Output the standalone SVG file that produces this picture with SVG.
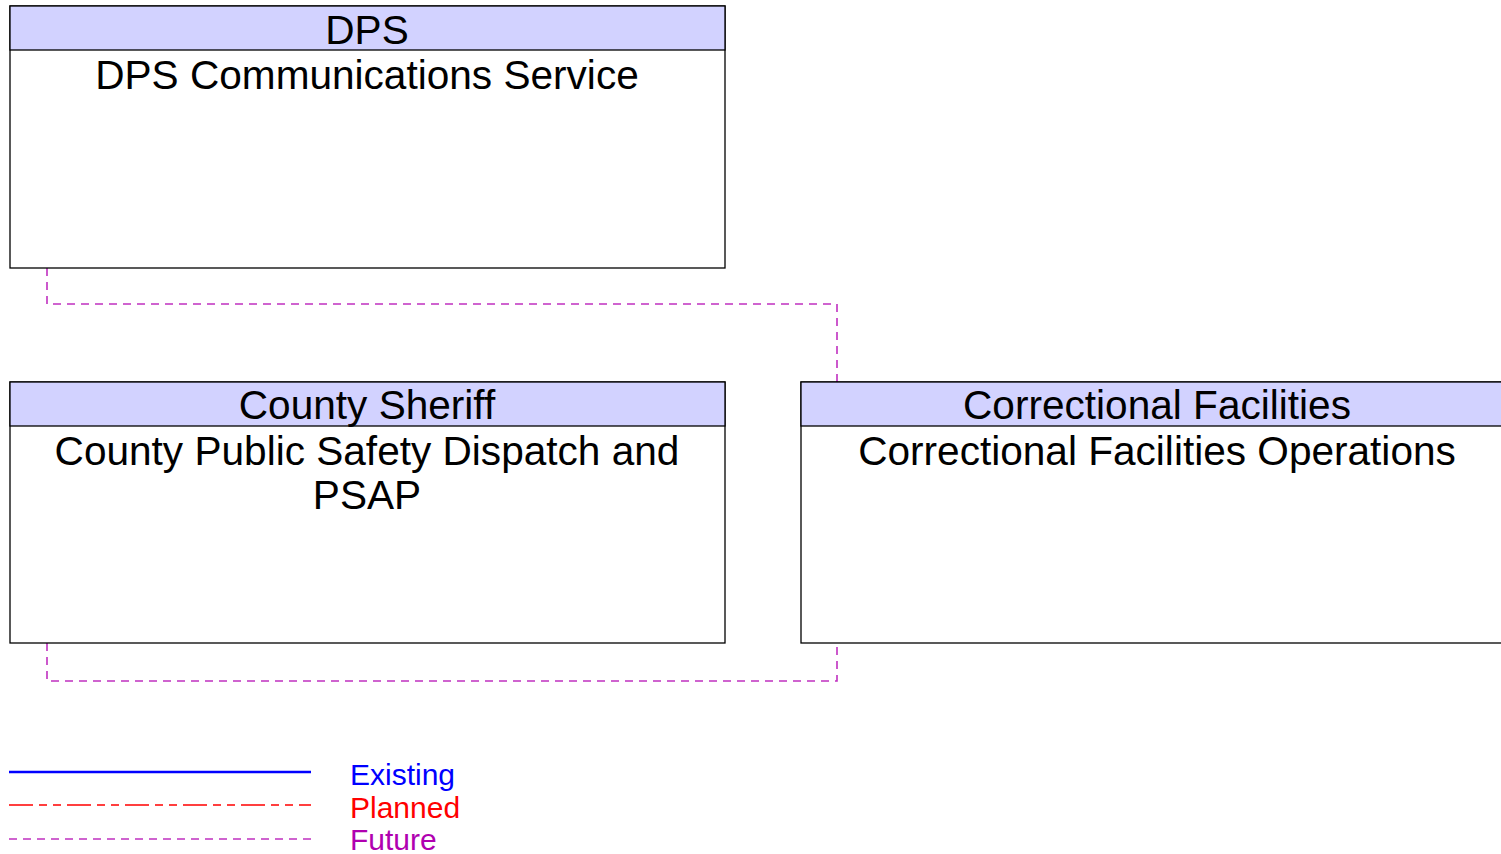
<svg xmlns="http://www.w3.org/2000/svg" width="1501" height="854" viewBox="0 0 1501 854">
<style>
.box{fill:#fff;stroke:#000;stroke-width:1.3}
.hdr{fill:#d2d2ff;stroke:#000;stroke-width:1.3}
.t{font-family:"Liberation Sans",Arial,sans-serif;font-size:40.6px;fill:#000;text-anchor:middle}
.fut{fill:none;stroke:#c030c0;stroke-width:1.6;stroke-dasharray:8,6}
.lg{font-family:"Liberation Sans",Arial,sans-serif;font-size:30px}
</style>
<rect width="1501" height="854" fill="#fff"/>
<g id="connectors">
<polyline class="fut" points="47,268 47,304 837,304 837,382"/>
<polyline class="fut" points="47,643 47,681 837,681 837,643"/>
</g>
<g id="dps">
<rect class="box" x="10" y="6" width="715" height="262"/>
<rect class="hdr" x="10" y="6" width="715" height="44"/>
<text class="t" x="367" y="44">DPS</text>
<text class="t" x="367" y="89">DPS Communications Service</text>
</g>
<g id="county">
<rect class="box" x="10" y="382" width="715" height="261"/>
<rect class="hdr" x="10" y="382" width="715" height="44"/>
<text class="t" x="367" y="419">County Sheriff</text>
<text class="t" x="367" y="465">County Public Safety Dispatch and</text>
<text class="t" x="367" y="509">PSAP</text>
</g>
<g id="correctional">
<rect class="box" x="801" y="382" width="712" height="261"/>
<rect class="hdr" x="801" y="382" width="712" height="44"/>
<text class="t" x="1157" y="419">Correctional Facilities</text>
<text class="t" x="1157" y="465">Correctional Facilities Operations</text>
</g>
<g id="legend">
<line x1="9" y1="772" x2="311" y2="772" stroke="#0000ff" stroke-width="2.5"/>
<line x1="9" y1="805" x2="311" y2="805" stroke="#ff0000" stroke-width="1.3" stroke-dasharray="24,6,8,6,8,6"/>
<line x1="9" y1="839" x2="311" y2="839" stroke="#c030c0" stroke-width="1.6" stroke-dasharray="8,6"/>
<text class="lg" x="350" y="785" fill="#0000ff">Existing</text>
<text class="lg" x="350" y="818" fill="#ff0000">Planned</text>
<text class="lg" x="350" y="850" fill="#b000b0">Future</text>
</g>
</svg>
